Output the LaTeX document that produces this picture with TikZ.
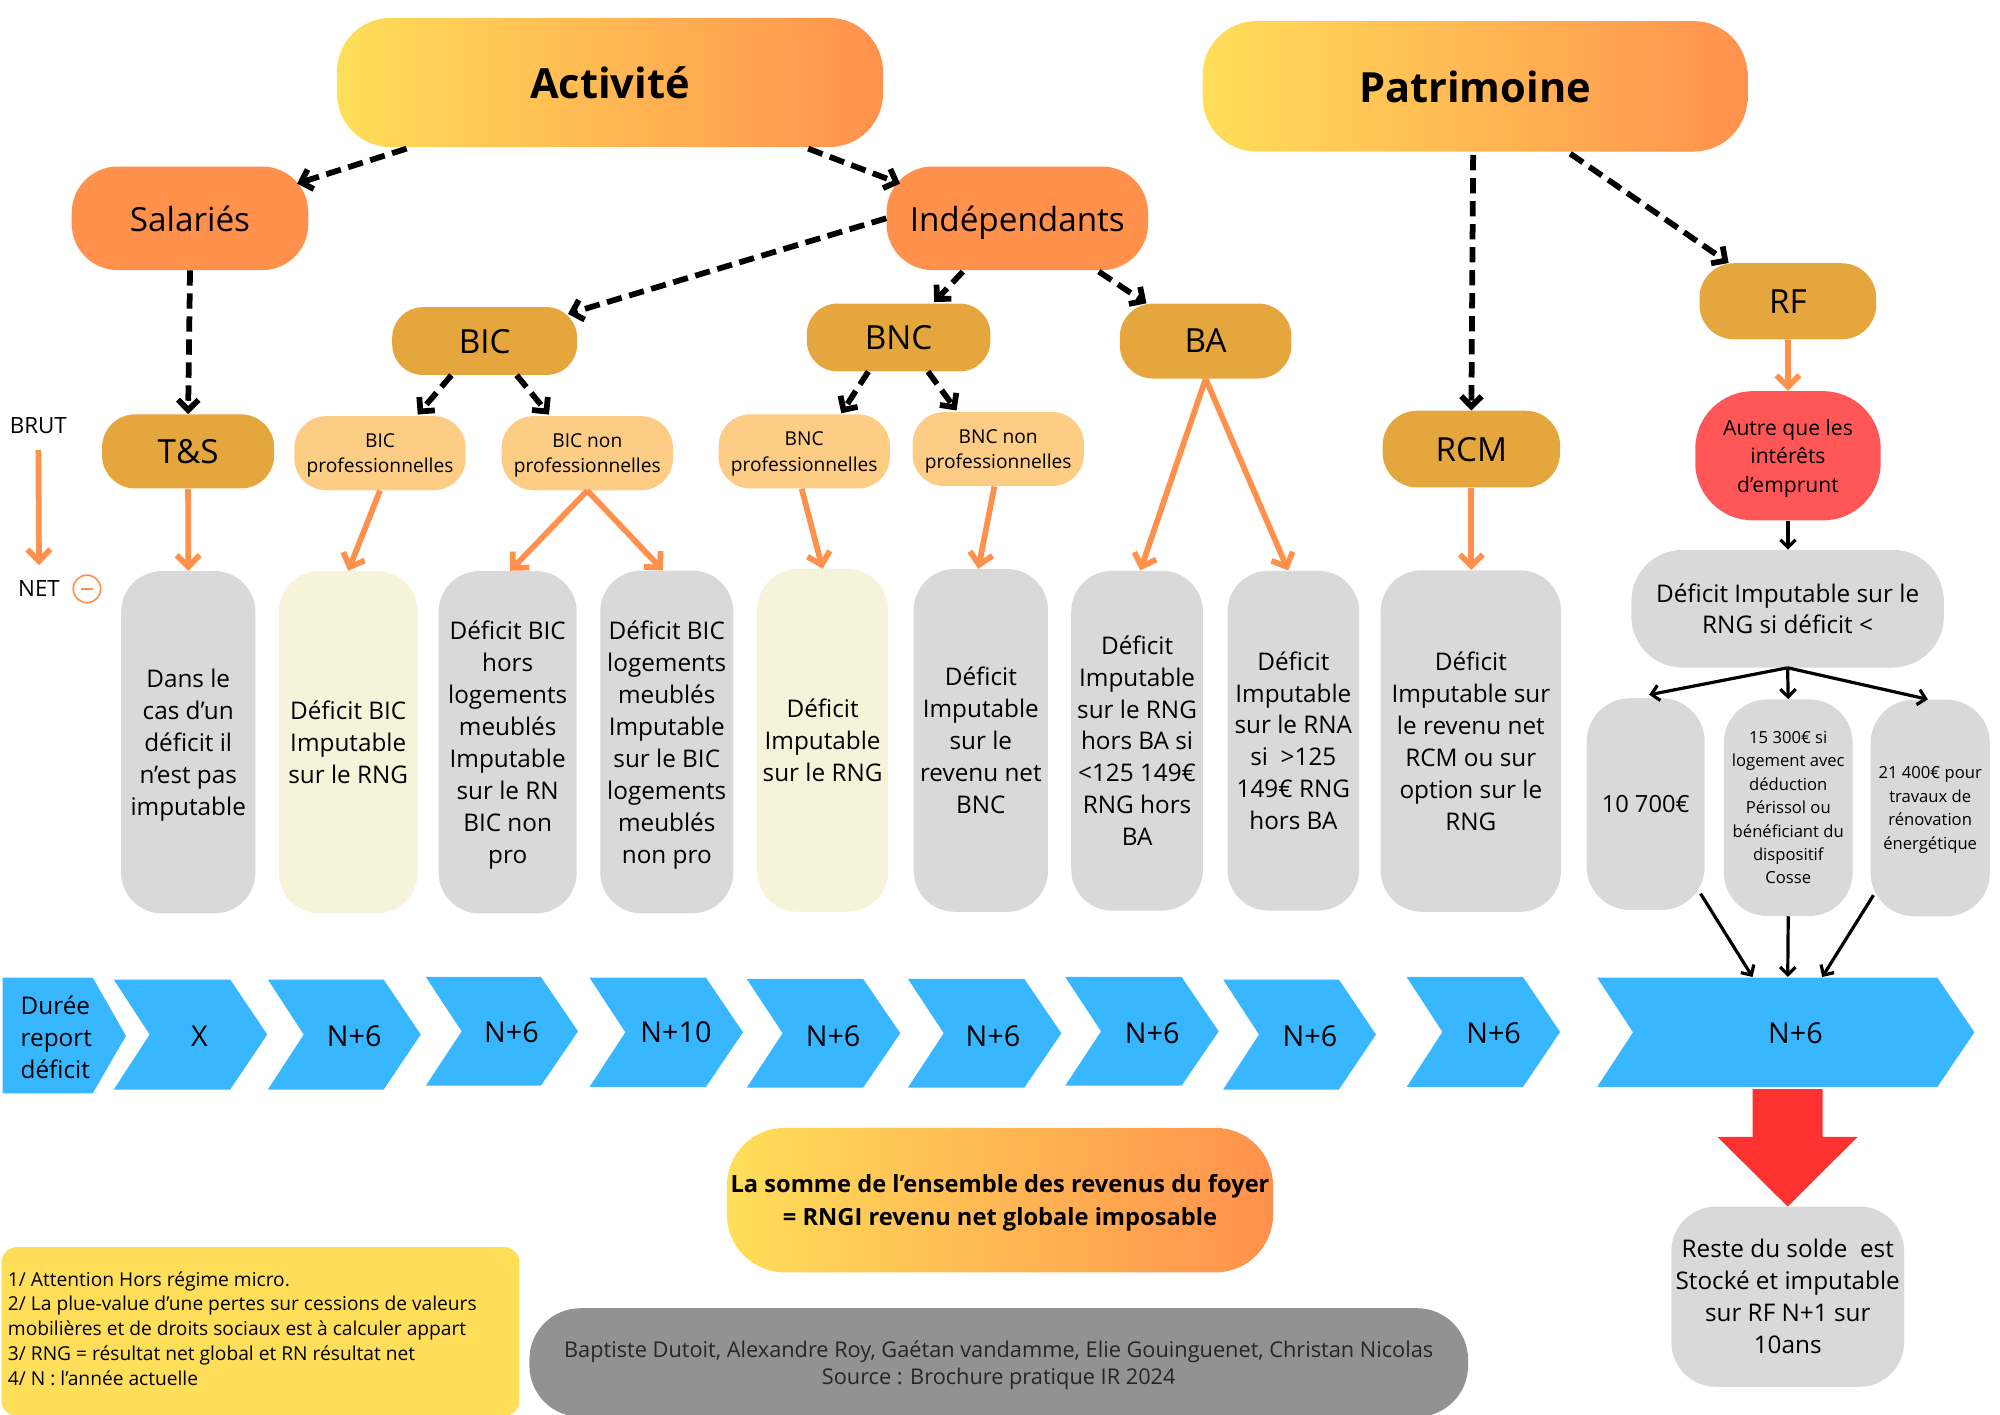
\documentclass[tikz,border=0pt]{standalone}
\usepackage{fontspec}
\setmainfont{Open Sans}
\usetikzlibrary{arrows.meta,calc}
\definecolor{cyel}{HTML}{FFDE59}
\definecolor{corg}{HTML}{FF914D}
\definecolor{cgold}{HTML}{E6A63E}
\definecolor{clor}{HTML}{FDCC85}
\definecolor{cgray}{HTML}{D9D9D9}
\definecolor{ccream}{HTML}{F7F2DA}
\definecolor{cblue}{HTML}{38B6FF}
\definecolor{cred}{HTML}{FF5757}
\definecolor{cbred}{HTML}{FF3131}
\definecolor{cdgray}{HTML}{929292}
\newcommand{\chevshape}[4]{%
  \fill[cblue] (#1,#3) -- ({#2-29},#3) -- (#2,{(#3+#4)/2}) -- ({#2-29},#4) -- (#1,#4) -- ({#1+28},{(#3+#4)/2}) -- cycle;}
\tikzset{
  box/.style={draw=none, inner sep=0pt, align=center, text=black, text depth=0pt},
  grad/.style={box, left color=cyel, right color=corg, rounded corners=42pt, font=\bfseries\fontsize{32.5}{38}\selectfont},
  lvl/.style={box, fill=corg, rounded corners=36pt, font=\fontsize{26}{30}\selectfont},
  gold/.style={box, fill=cgold, rounded corners=24pt, font=\fontsize{26}{30}\selectfont},
  pro/.style={box, fill=clor, rounded corners=25pt, minimum width=134, minimum height=58, font=\fontsize{15}{20}\selectfont},
  tall/.style={box, fill=cgray, rounded corners=32pt, font=\fontsize{19}{25}\selectfont},
  creambox/.style={tall, fill=ccream},
  smalltall/.style={tall, rounded corners=34pt, font=\fontsize{13}{18.3}\selectfont},
  chevtxt/.style={inner sep=0pt, font=\fontsize{22.5}{26}\selectfont},
  dasharr/.style={black, line width=4.5pt, dash pattern=on 12pt off 6pt, -{Straight Barb[length=8pt,width=16pt]}},
  orarr/.style={corg, line width=4.5pt, -{Straight Barb[length=9pt,width=18pt]}},
  blkarr/.style={black, line width=2.5pt, -{Straight Barb[length=6pt,width=12pt]}},
}
\begin{document}
\begin{tikzpicture}[x=1pt,y=-1pt]
\useasboundingbox (0,0) rectangle (1564,1106);

% top level
\node[grad, minimum width=427, minimum height=101] (act) at (477,64.5) {Activité};
\node[grad, minimum width=426, minimum height=102] (pat) at (1153.5,67.5) {Patrimoine};
\node[lvl, minimum width=185, minimum height=81] (sal) at (148.6,170.7) {Salariés};
\node[lvl, minimum width=204.5, minimum height=81] (ind) at (795.5,170.7) {Indépendants};
\node[gold, minimum width=144.6, minimum height=53] (bic) at (379,266.7) {BIC};
\node[gold, minimum width=143.6, minimum height=53] (bnc) at (702.7,263.9) {BNC};
\node[gold, minimum width=134.2, minimum height=58.6, rounded corners=26pt] (ba) at (942.8,266.7) {BA};
\node[gold, minimum width=138.2, minimum height=59.5, rounded corners=27pt] (rf) at (1398.1,235.6) {RF};
\node[gold, minimum width=138.7, minimum height=60, rounded corners=27pt] (rcm) at (1150.6,351.2) {RCM};
\node[gold, minimum width=134.6, minimum height=58, rounded corners=26pt] (ts) at (147.1,353) {T\&S};
\node[pro] (bicpro) at (297.2,354.4) {BIC\\professionnelles};
\node[pro] (bicnp) at (459.3,354.4) {BIC non\\professionnelles};
\node[pro] (bncpro) at (628.9,353) {BNC\\professionnelles};
\node[pro] (bncnp) at (780.6,351.2) {BNC non\\professionnelles};
\node[box, fill=cred, rounded corners=45pt, minimum width=145, minimum height=101, font=\fontsize{16.5}{22.5}\selectfont] (autre) at (1398.2,356.4) {Autre que les\\intérêts\\d’emprunt};

% side labels
\node[inner sep=0pt, font=\fontsize{17.5}{20}\selectfont] (brut) at (30,332.5) {BRUT};
\node[inner sep=0pt, font=\fontsize{17.5}{20}\selectfont] (net) at (30.5,460.3) {NET};
\node[circle, draw=corg, line width=1.3pt, minimum size=21.5pt, inner sep=0pt] (minus) at (68,460.5) {};
\draw[corg, line width=1.3pt] ([xshift=-5pt]minus.center) -- ([xshift=5pt]minus.center);

% tall boxes
\node[tall, minimum width=105, minimum height=267.7] (b1) at (147.2,580.4) {Dans le\\cas d’un\\déficit il\\n’est pas\\imputable};
\node[creambox, minimum width=108.6, minimum height=267.7] (b2) at (272.3,580.4) {Déficit BIC\\Imputable\\sur le RNG};
\node[tall, minimum width=108, minimum height=267.7] (b3) at (397,580.4) {Déficit BIC\\hors\\logements\\meublés\\Imputable\\sur le RN\\BIC non\\pro};
\node[tall, minimum width=104, minimum height=268] (b4) at (521.4,580.2) {Déficit BIC\\logements\\meublés\\Imputable\\sur le BIC\\logements\\meublés\\non pro};
\node[creambox, minimum width=102.6, minimum height=268] (b5) at (643.3,579) {Déficit\\Imputable\\sur le RNG};
\node[tall, minimum width=105, minimum height=268] (b6) at (767,579) {Déficit\\Imputable\\sur le\\revenu net\\BNC};
\node[tall, minimum width=103, minimum height=265.7] (b7) at (889.2,579.2) {Déficit\\Imputable\\sur le RNG\\hors BA si\\<125 149€\\RNG hors\\BA};
\node[tall, minimum width=103, minimum height=265.7] (b8) at (1011.4,579.2) {Déficit\\Imputable\\sur le RNA\\si~ >125\\149€ RNG\\hors BA};
\node[tall, minimum width=141, minimum height=267] (b9) at (1150.2,579.5) {Déficit\\Imputable sur\\le revenu net\\RCM ou sur\\option sur le\\RNG};
\node[tall, rounded corners=40pt, minimum width=244.4, minimum height=92] (rngsi) at (1397.9,476) {Déficit Imputable sur le\\RNG si déficit <};
\node[tall, rounded corners=34pt, minimum width=92.3, minimum height=165.6, font=\fontsize{18.5}{24}\selectfont] (c1) at (1286.9,628.8) {10 700€};
\node[smalltall, minimum width=100.8, minimum height=169.4] (c2) at (1398.4,631.6) {15 300€ si\\logement avec\\déduction\\Périssol ou\\bénéficiant du\\dispositif\\Cosse};
\node[smalltall, minimum width=93.3, minimum height=169.4] (c3) at (1509.4,631.8) {21 400€ pour\\travaux de\\rénovation\\énergétique};

% chevrons
\fill[cblue] (2,764.5) -- (72.5,764.5) -- (98.5,810) -- (72.5,855) -- (2,855) -- cycle;
\chevshape{89}{209}{766}{852}
\chevshape{209.5}{329}{766}{852}
\chevshape{333}{452}{764}{849}
\chevshape{461}{581}{764.5}{850}
\chevshape{584}{704}{765.5}{850.5}
\chevshape{710}{830}{765.5}{850.5}
\chevshape{833}{953}{764}{849}
\chevshape{956.5}{1076}{766}{852}
\chevshape{1100}{1220}{764}{850}
\chevshape{1249}{1544}{764.5}{850}
\node[anchor=west, align=left, inner sep=0pt, font=\fontsize{19}{25}\selectfont] (duree) at (16,811) {Durée\\report\\déficit};
\node[chevtxt] (x1) at (156,810) {X};
\node[chevtxt] (x2) at (277,810) {N+6};
\node[chevtxt] (x3) at (400,807) {N+6};
\node[chevtxt] (x4) at (528.6,807) {N+10};
\node[chevtxt] (x5) at (651.5,810) {N+6};
\node[chevtxt] (x6) at (776.5,810) {N+6};
\node[chevtxt] (x7) at (901,807.6) {N+6};
\node[chevtxt] (x8) at (1024.4,810) {N+6};
\node[chevtxt] (x9) at (1168,807.6) {N+6};
\node[chevtxt] (x10) at (1404,807.6) {N+6};
\coordinate (t1) at (1370.5,764);
\coordinate (t2) at (1398,764);
\coordinate (t3) at (1425,764);

% big red arrow
\fill[cbred] (1370.5,851.6) -- (1425.3,851.6) -- (1425.3,889) -- (1452.7,889) -- (1398,943.6) -- (1343,889) -- (1370.5,889) -- cycle;

% bottom
\node[tall, rounded corners=35pt, minimum width=182, minimum height=141] (reste) at (1398,1014) {Reste du solde~ est\\Stocké et imputable\\sur RF N+1 sur\\10ans};
\node[grad, rounded corners=45pt, minimum width=427, minimum height=113, font=\bfseries\fontsize{18.5}{26}\selectfont] (somme) at (782,938.5) {La somme de l’ensemble des revenus du foyer\\= RNGI revenu net globale imposable};
\node[box, fill=cyel, rounded corners=12pt, minimum width=405, minimum height=132, anchor=north west] (notes) at (1,975) {};
\node[anchor=west, align=left, inner sep=0pt, font=\fontsize{15}{19.5}\selectfont] (notestxt) at (6,1039) {1/ Attention Hors régime micro.\\2/ La plue-value d’une pertes sur cessions de valeurs\\mobilières et de droits sociaux est à calculer appart\\3/ RNG = résultat net global et RN résultat net\\4/ N : l’année actuelle};
\node[box, fill=cdgray, rounded corners=40pt, minimum width=734, minimum height=85, font=\fontsize{17}{21.5}\selectfont, text=black!85] (auth) at (781,1065.5) {Baptiste Dutoit, Alexandre Roy, Gaétan vandamme, Elie Gouinguenet, Christan Nicolas\\Source : Brochure pratique IR 2024};

% dashed connectors
\draw[dasharr] ([shift={(54.7,1)}]act.south west) -- ([shift={(-9,13.6)}]sal.north east);
\draw[dasharr] ([shift={(-58.7,1)}]act.south east) -- ([shift={(10.8,13.6)}]ind.north west);
\draw[dasharr] (ind.west) -- ([shift={(-7.3,5.5)}]bic.north east);
\draw[dasharr] ([shift={(-42.5,1)}]ind.south) -- ([shift={(27.8,-1)}]bnc.north);
\draw[dasharr] ([shift={(-38.7,1)}]ind.south east) -- ([shift={(21,0)}]ba.north west);
\draw[dasharr] (sal.south) -- (ts.north);
\draw[dasharr] ([shift={(-26,0)}]bic.south) -- ([shift={(29.5,-1)}]bicpro.north);
\draw[dasharr] ([shift={(25,0)}]bic.south) -- ([shift={(-30,-1)}]bicnp.north);
\draw[dasharr] ([shift={(-23.7,0)}]bnc.south) -- ([shift={(29,-0.6)}]bncpro.north);
\draw[dasharr] ([shift={(23,0)}]bnc.south) -- ([shift={(-32.6,-1)}]bncnp.north);
\draw[dasharr] ([shift={(-1.5,2.5)}]pat.south) -- (rcm.north);
\draw[dasharr] ([shift={(74.5,1.5)}]pat.south) -- ([shift={(23,0)}]rf.north west);

% orange connectors
\draw[orarr] ([shift={(0,13)}]brut.south) -- ([shift={(0,-12)}]net.north);
\draw[orarr] (ts.south) -- (b1.north);
\draw[orarr] (bicpro.south) -- (b2.north);
\draw[orarr] (bicnp.south) -- ([shift={(2,0)}]b3.north);
\draw[orarr] (bicnp.south) -- ([shift={(-3,0)}]b4.north);
\draw[orarr] ([shift={(-2,0)}]bncpro.south) -- (b5.north);
\draw[orarr] ([shift={(-3,0)}]bncnp.south) -- ([shift={(-2,0)}]b6.north);
\draw[orarr] (ba.south) -- ([shift={(2.5,0)}]b7.north);
\draw[orarr] (ba.south) -- ([shift={(-4,0)}]b8.north);
\draw[orarr] (rcm.south) -- (rcm.south |- b9.north);
\draw[orarr] (rf.south) -- (autre.north);

% black connectors
\draw[blkarr] (autre.south) -- (autre.south |- rngsi.north);
\draw[blkarr] (rngsi.south) -- ([shift={(2.7,-2.5)}]c1.north);
\draw[blkarr] (rngsi.south) -- (c2.north);
\draw[blkarr] (rngsi.south) -- ([shift={(-1.8,0)}]c3.north);
\draw[blkarr] ([shift={(-3.4,-13)}]c1.south east) -- (t1);
\draw[blkarr] (c2.south) -- (t2);
\draw[blkarr] ([shift={(2.5,-16.7)}]c3.south west) -- (t3);
\end{tikzpicture}
\end{document}
